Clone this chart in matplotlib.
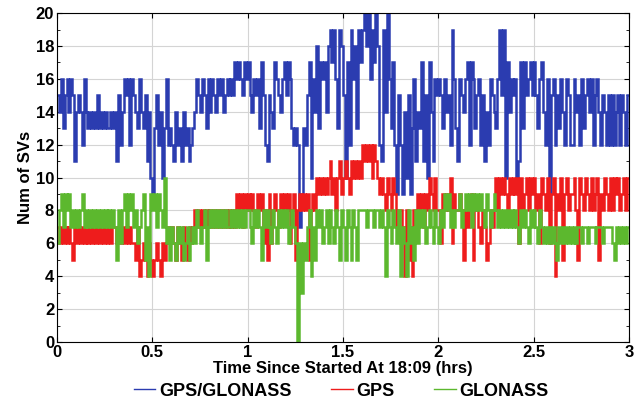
import numpy as np
import matplotlib
matplotlib.use("Agg")
import matplotlib.pyplot as plt
from matplotlib.ticker import MultipleLocator

plt.rcParams['font.family'] = ['Liberation Sans Narrow', 'Liberation Sans', 'DejaVu Sans']
plt.rcParams['font.weight'] = 'bold'

t_step = 0.01

gps_glonass = [
    15, 14, 16, 13, 15, 16, 14, 16, 15, 11,
    14, 15, 14, 12, 16, 14, 13, 14, 13, 14,
    13, 15, 13, 14, 13, 14, 13, 13, 14, 13,
    14, 11, 15, 12, 14, 16, 15, 16, 12, 16,
    15, 14, 13, 16, 14, 13, 15, 11, 14, 10,
    9, 13, 15, 12, 14, 10, 13, 16, 12, 13,
    12, 11, 14, 12, 13, 11, 14, 12, 13, 11,
    12, 13, 14, 16, 15, 14, 16, 15, 13, 16,
    14, 16, 15, 14, 16, 15, 16, 14, 15, 16,
    15, 16, 15, 17, 16, 17, 16, 15, 17, 16,
    17, 15, 14, 16, 15, 16, 13, 17, 15, 12,
    11, 15, 14, 13, 17, 16, 15, 14, 16, 17,
    15, 17, 16, 13, 12, 13, 12, 7, 9, 13,
    12, 15, 17, 10, 16, 14, 18, 13, 17, 16,
    17, 14, 18, 19, 17, 19, 16, 13, 19, 18,
    15, 10, 17, 12, 19, 16, 18, 13, 19, 17,
    19, 20, 18, 20, 16, 19, 17, 20, 18, 12,
    11, 19, 14, 20, 16, 13, 17, 12, 9, 15,
    12, 9, 14, 10, 15, 9, 13, 16, 11, 14,
    13, 17, 11, 15, 10, 17, 14, 11, 16, 15,
    16, 15, 13, 16, 14, 15, 12, 19, 16, 13,
    11, 16, 15, 14, 16, 17, 12, 17, 16, 13,
    15, 16, 12, 15, 11, 14, 12, 16, 15, 14,
    13, 16, 19, 15, 19, 10, 17, 14, 16, 15,
    16, 10, 11, 17, 13, 17, 15, 16, 17, 15,
    17, 15, 13, 16, 17, 14, 12, 16, 9, 15,
    16, 12, 15, 13, 16, 14, 12, 16, 15, 12,
    12, 16, 14, 15, 12, 16, 13, 15, 16, 14,
    16, 12, 15, 16, 14, 12, 15, 14, 12, 15,
    12, 15, 12, 14, 15, 12, 15, 14, 12, 15, 15,
]

gps = [
    7, 6, 7, 6, 7, 6, 7, 6, 5, 7,
    6, 7, 6, 7, 6, 7, 6, 7, 6, 7,
    6, 7, 6, 7, 6, 7, 6, 7, 6, 7,
    7, 6, 7, 6, 7, 6, 7, 6, 7, 6,
    6, 5, 7, 4, 5, 6, 5, 4, 6, 5,
    4, 5, 6, 5, 4, 6, 5, 6, 7, 6,
    7, 6, 5, 7, 6, 5, 7, 6, 5, 7,
    6, 7, 8, 7, 8, 7, 8, 7, 8, 7,
    8, 7, 8, 7, 8, 7, 8, 7, 8, 7,
    8, 7, 8, 7, 9, 8, 9, 7, 9, 8,
    9, 8, 9, 8, 7, 9, 8, 9, 6, 8,
    5, 9, 6, 8, 9, 8, 7, 9, 8, 9,
    8, 9, 6, 8, 9, 5, 8, 9, 8, 9,
    8, 9, 5, 8, 9, 8, 10, 9, 10, 9,
    10, 9, 10, 11, 9, 10, 8, 10, 11, 9,
    10, 11, 10, 9, 11, 10, 11, 10, 11, 10,
    12, 11, 12, 11, 12, 10, 12, 11, 10, 9,
    10, 9, 8, 10, 9, 8, 10, 9, 7, 8,
    8, 7, 4, 8, 5, 7, 4, 8, 7, 9,
    8, 9, 7, 9, 8, 10, 9, 8, 10, 8,
    8, 6, 9, 8, 9, 8, 10, 6, 9, 8,
    8, 9, 8, 5, 8, 7, 8, 9, 5, 8,
    8, 7, 6, 8, 7, 5, 6, 8, 7, 8,
    10, 8, 10, 9, 10, 9, 8, 10, 9, 10,
    9, 10, 6, 10, 8, 9, 10, 8, 10, 9,
    10, 8, 9, 6, 10, 9, 8, 10, 6, 9,
    10, 4, 9, 8, 10, 5, 9, 10, 8, 9,
    9, 10, 8, 5, 10, 9, 8, 10, 9, 8,
    10, 8, 9, 10, 5, 9, 8, 10, 9, 8,
    10, 8, 10, 9, 10, 8, 9, 10, 8, 10, 10,
]

glonass = [
    6, 8, 9, 7, 9, 8, 9, 7, 8, 7,
    8, 7, 8, 9, 7, 8, 7, 8, 7, 8,
    7, 8, 7, 8, 7, 8, 7, 8, 7, 8,
    7, 5, 8, 6, 8, 9, 7, 9, 8, 9,
    7, 8, 6, 7, 8, 9, 5, 7, 4, 9,
    8, 9, 7, 9, 8, 7, 10, 6, 7, 5,
    7, 6, 5, 7, 6, 7, 5, 6, 7, 5,
    6, 7, 6, 8, 7, 6, 7, 8, 5, 7,
    8, 7, 8, 7, 8, 7, 8, 7, 8, 7,
    7, 8, 7, 8, 7, 8, 7, 8, 7, 8,
    8, 7, 6, 8, 7, 8, 7, 5, 8, 7,
    8, 7, 6, 8, 7, 6, 8, 7, 8, 7,
    8, 6, 7, 8, 7, 6, 0, 6, 3, 6,
    5, 7, 8, 4, 7, 5, 8, 7, 8, 6,
    7, 8, 6, 8, 7, 6, 8, 7, 5, 8,
    7, 5, 8, 7, 5, 8, 7, 5, 8, 8,
    8, 8, 7, 8, 8, 8, 7, 8, 8, 7,
    8, 7, 4, 8, 7, 6, 8, 7, 6, 8,
    4, 7, 6, 4, 8, 6, 7, 5, 8, 6,
    8, 7, 8, 6, 7, 8, 7, 6, 8, 7,
    6, 8, 7, 9, 8, 9, 7, 8, 7, 8,
    8, 9, 7, 8, 9, 8, 9, 7, 9, 8,
    9, 8, 9, 8, 7, 9, 8, 7, 8, 9,
    8, 7, 8, 7, 8, 7, 8, 7, 8, 7,
    8, 7, 6, 8, 7, 8, 7, 6, 8, 7,
    8, 7, 6, 8, 7, 6, 7, 6, 7, 6,
    7, 6, 5, 7, 6, 7, 6, 7, 6, 7,
    6, 7, 6, 7, 7, 6, 7, 7, 6, 7,
    7, 7, 6, 7, 7, 7, 6, 7, 7, 7,
    7, 6, 5, 7, 6, 7, 6, 7, 6, 7, 7,
]

series_names = ['GPS/GLONASS', 'GPS', 'GLONASS']
series_colors = ['#2b3cb0', '#ee1c1c', '#5cb82e']

t = np.arange(len(gps_glonass)) * t_step

fig = plt.figure(figsize=(6.44, 4.11), dpi=100)
ax = fig.add_axes([0.0885, 0.168, 0.888, 0.800])

for vals, name, col in zip([gps_glonass, gps, glonass], series_names, series_colors):
    ax.plot(t, vals, color=col, lw=1.8, drawstyle='steps-post', label=name,
            solid_joinstyle='miter')

ax.set_xlim(0, 3)
ax.set_ylim(0, 20)
ax.xaxis.set_major_locator(MultipleLocator(0.5))
ax.yaxis.set_major_locator(MultipleLocator(2))
ax.yaxis.set_minor_locator(MultipleLocator(1))
ax.tick_params(which='both', direction='in', top=True, right=True, labelsize=12, pad=2)
ax.tick_params(which='minor', length=2)
ax.xaxis.set_major_formatter(plt.FuncFormatter(lambda v, p: f'{v:g}'))
ax.grid(True, which='major', color='#d4d4d4', lw=0.8)
ax.set_axisbelow(True)
for s in ax.spines.values():
    s.set_linewidth(0.8)

ax.set_xlabel('Time Since Started At 18:09 (hrs)', fontsize=12, fontweight='bold', labelpad=1)
ax.set_ylabel('Num of SVs', fontsize=12, fontweight='bold', labelpad=2)

leg = fig.legend(loc='lower center', bbox_to_anchor=(0.53, -0.012), ncol=3, frameon=False,
                 fontsize=13, handlelength=1.2, handletextpad=0.2, columnspacing=2.2)
for h in leg.legend_handles:
    h.set_linewidth(1.0)

fig.savefig('out.png', dpi=100)
